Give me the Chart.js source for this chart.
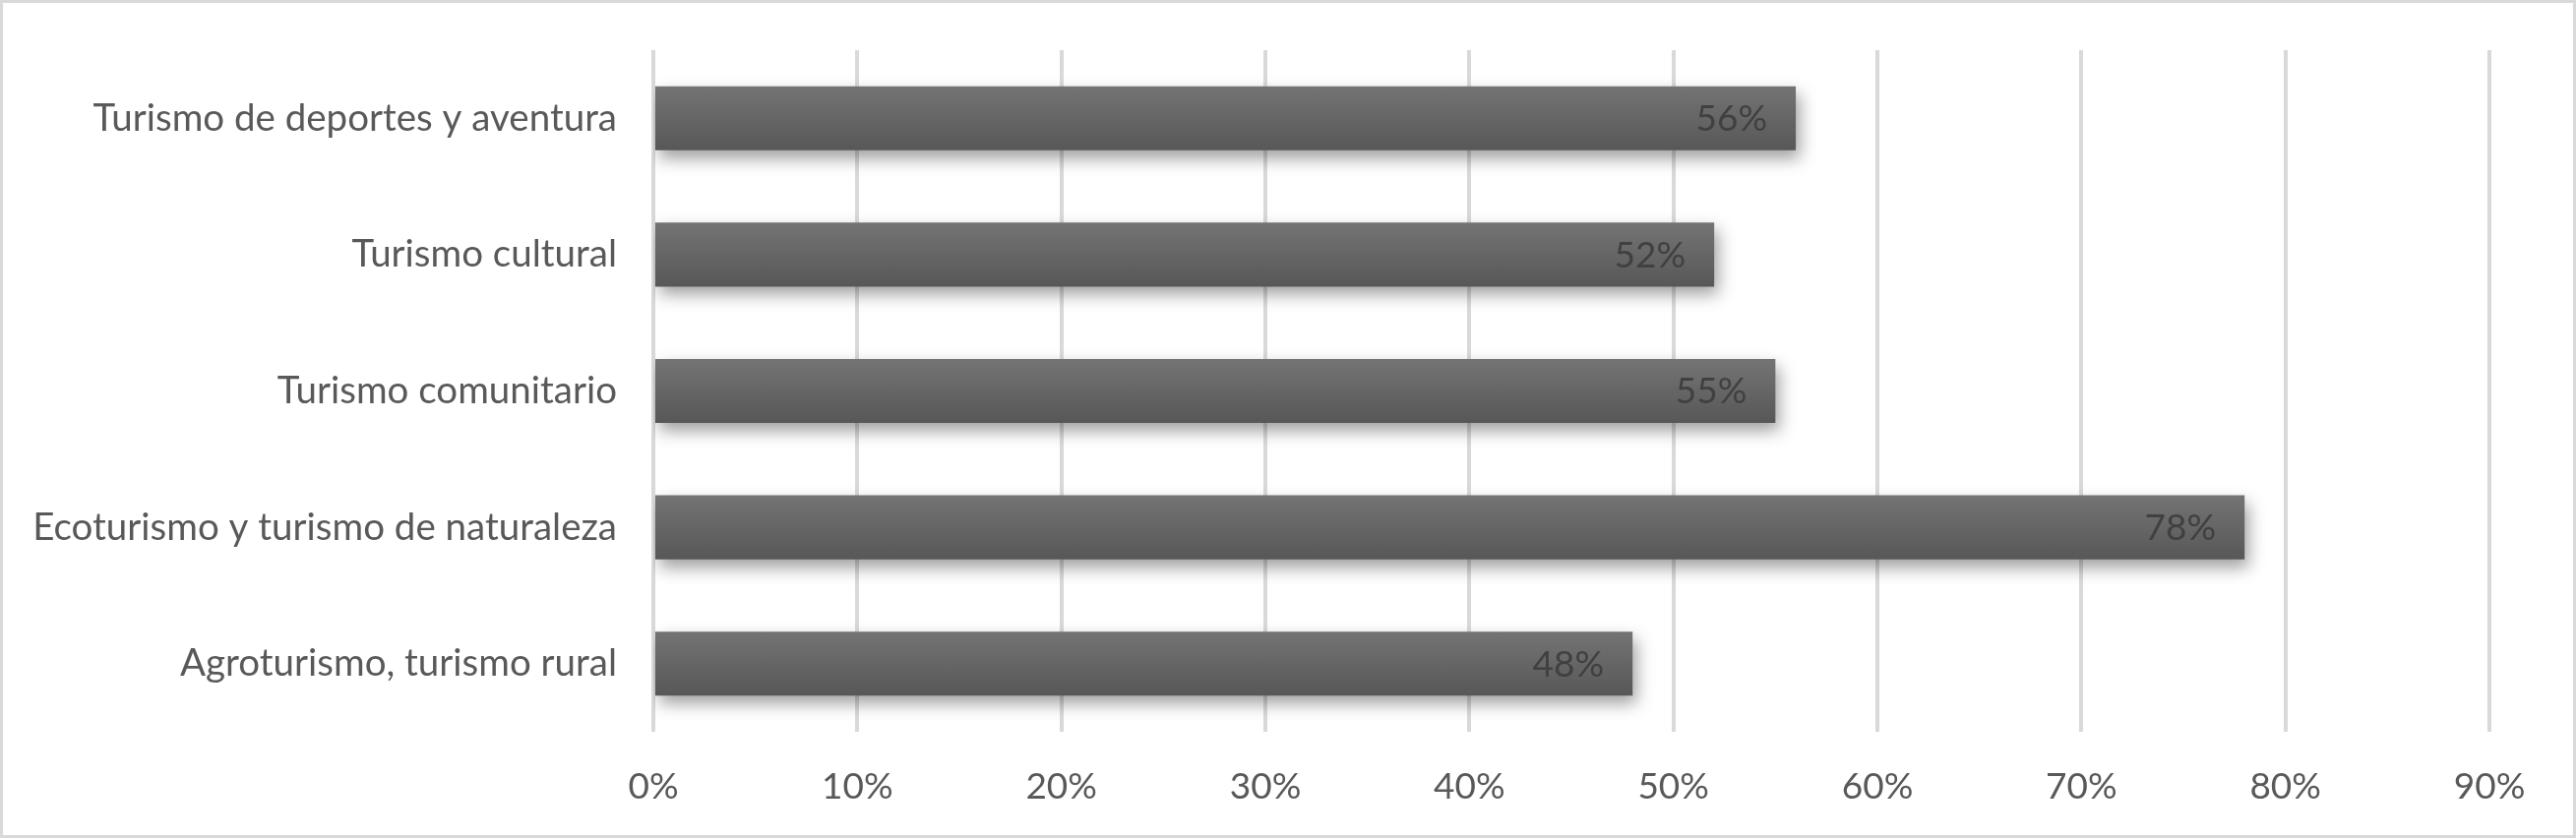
<!DOCTYPE html>
<html><head><meta charset="utf-8">
<script src="https://cdn.jsdelivr.net/npm/chart.js@4"></script>
<style>html,body{margin:0;padding:0;background:#fff;overflow:hidden}#wrap{width:2618px;height:852px;position:relative}</style>
</head><body><div id="wrap"><canvas id="c"></canvas></div>
<script>
const categories = ["Turismo de deportes y aventura", "Turismo cultural", "Turismo comunitario", "Ecoturismo y turismo de naturaleza", "Agroturismo, turismo rural"];
const values = [56, 52, 55, 78, 48];
const xTickValues = [0, 10, 20, 30, 40, 50, 60, 70, 80, 90];

const FONT = 'Lato';
const TEXT = '#595959';

const shadowPlugin = {
  id: 'barShadow',
  beforeDatasetDraw(chart) {
    const ctx = chart.ctx;
    ctx.save();
    ctx.shadowColor = 'rgba(0,0,0,0.38)';
    ctx.shadowBlur = 16;
    ctx.shadowOffsetX = 4;
    ctx.shadowOffsetY = 8;
  },
  afterDatasetDraw(chart) { chart.ctx.restore(); }
};
const labelPlugin = {
  id: 'barLabels',
  afterDatasetsDraw(chart) {
    const ctx = chart.ctx;
    const meta = chart.getDatasetMeta(0);
    ctx.save();
    ctx.font = '37px ' + FONT;
    ctx.fillStyle = '#404040';
    ctx.textAlign = 'right';
    ctx.textBaseline = 'middle';
    meta.data.forEach((el, i) => {
      ctx.fillText(values[i] + '%', el.x - 29, el.y + 1);
    });
    ctx.restore();
  }
};
const borderPlugin = {
  id: 'outerBorder',
  afterDraw(chart) {
    const ctx = chart.ctx;
    ctx.save();
    ctx.strokeStyle = '#d9d9d9';
    ctx.lineWidth = 3;
    ctx.strokeRect(1.5, 1.5, chart.width - 3, chart.height - 3);
    ctx.restore();
  }
};

function barFill(c) {
  const chart = c.chart;
  const ys = chart.scales.y;
  if (!ys || ys.top === undefined || c.dataIndex === undefined) return '#626262';
  const center = ys.getPixelForValue(c.dataIndex);
  const h = 33;
  const g = chart.ctx.createLinearGradient(0, center - h, 0, center + h);
  g.addColorStop(0, '#747474');
  g.addColorStop(1, '#575757');
  return g;
}

new Chart(document.getElementById('c'), {
  type: 'bar',
  data: {
    labels: categories,
    datasets: [{ data: values, backgroundColor: barFill, borderWidth: 0, barPercentage: 0.47, categoryPercentage: 1 }]
  },
  options: {
    indexAxis: 'y',
    responsive: true,
    maintainAspectRatio: false,
    animation: false,
    layout: { padding: { left: 0, right: 88, top: 51, bottom: 0 } },
    plugins: { legend: { display: false }, tooltip: { enabled: false } },
    scales: {
      x: {
        min: 0, max: 90,
        afterBuildTicks(s) { s.ticks = xTickValues.map(v => ({ value: v })); },
        afterFit(s) { s.height = 108; s.paddingLeft = 0; s.paddingRight = 0; },
        grid: { color: '#d9d9d9', lineWidth: 4, drawTicks: false },
        border: { display: false },
        ticks: { callback: v => v + '%', color: TEXT, font: { family: FONT, size: 37 }, padding: 34, maxRotation: 0 }
      },
      y: {
        afterFit(s) { s.width = 664; s.paddingTop = 0; s.paddingBottom = 0; },
        grid: { display: false, drawTicks: false },
        border: { display: false },
        ticks: { color: TEXT, font: { family: FONT, size: 38.5 }, padding: 37 }
      }
    }
  },
  plugins: [shadowPlugin, labelPlugin, borderPlugin]
});
</script></body></html>
